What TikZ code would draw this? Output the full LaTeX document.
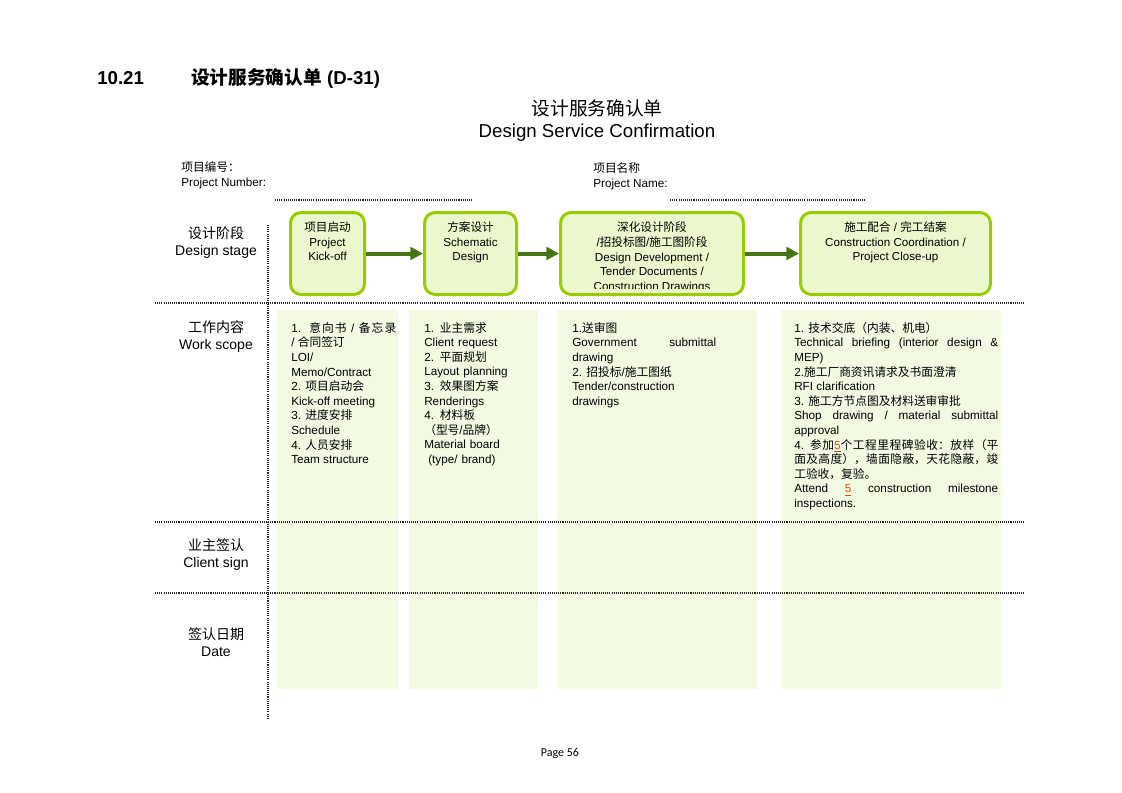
\documentclass[tikz,border=0pt]{standalone}
\usepackage{fontspec}
\usepackage{xcolor}
\usepackage{tikz}
\usetikzlibrary{arrows.meta, positioning}
\setmainfont{Liberation Sans}
\newfontfamily\cjk{Noto Sans CJK SC}
\newfontfamily\pagefont{Carlito}
\definecolor{stageline}{RGB}{153,204,0}
\definecolor{stagefill}{RGB}{235,247,204}
\definecolor{colfill}{RGB}{242,250,226}
\definecolor{flowgreen}{RGB}{70,118,18}
\definecolor{markred}{RGB}{230,70,30}
\newcommand{\zh}[1]{{\cjk\XeTeXlinebreaklocale "zh"\XeTeXlinebreakskip=0pt plus 1pt\relax #1}}
\newcommand{\markfive}{\textcolor{markred}{\underline{5}}}

\begin{document}
\begin{tikzpicture}[
    x=0.75pt, y=-0.75pt,
    stagebox/.style={draw=stageline, line width=2.25pt, fill=stagefill, rounded corners=8pt, minimum height=61.5pt},
    stagetext/.style={anchor=north, align=center, inner sep=0pt, font=\fontsize{8.7}{10.9}\selectfont},
    scopetext/.style={anchor=north west, align=justify, inner sep=0pt, font=\fontsize{8.8}{10.95}\selectfont},
    rowlabel/.style={align=center, inner sep=0pt, font=\fontsize{10.5}{12.75}\selectfont},
    flow/.style={-{Triangle[length=9.5pt, width=9.5pt]}, line width=3pt, draw=flowgreen},
    sep/.style={line width=0.9pt, dash pattern=on 0.8pt off 0.8pt, draw=black!85}
]
    \useasboundingbox (0,0) rectangle (1122,793);

    % Titles
    \node[anchor=west, inner sep=0pt, font=\fontsize{14}{16}\selectfont\bfseries] (secnum) at (97,78) {10.21};
    \node[anchor=west, inner sep=0pt, font=\fontsize{14}{16}\selectfont\bfseries] (sectitle) at (191,78) {\zh{设计服务确认单} (D-31)};
    \node[align=center, inner sep=0pt, font=\fontsize{14}{17}\selectfont] (formtitle) at (597,120.5) {\zh{设计服务确认单}\\Design Service Confirmation};

    % Project fields
    \node[anchor=north west, align=left, inner sep=0pt, font=\fontsize{8.8}{11.25}\selectfont] (projnum) at (181,161) {\zh{项目编号：}\\Project Number:};
    \node[anchor=north west, align=left, inner sep=0pt, font=\fontsize{8.8}{11.25}\selectfont] (projname) at (593,162) {\zh{项目名称}\\Project Name:};
    \draw[sep] (275,200) -- (472,200);
    \draw[sep] (670,200) -- (866,200);

    % Column backgrounds
    \fill[colfill] (277,310) rectangle (398,689);
    \fill[colfill] (409,310) rectangle (538,689);
    \fill[colfill] (557,310) rectangle (757,689);
    \fill[colfill] (781,310) rectangle (1001,689);

    % Grid lines
    \draw[sep] (268,225) -- (268,718);
    \draw[sep] (155,303) -- (1025,303);
    \draw[sep] (155,522) -- (1025,522);
    \draw[sep] (155,593) -- (1025,593);

    % Row labels
    \node[rowlabel] (stagelbl) at (216,242.5) {\zh{设计阶段}\\Design stage};
    \node[rowlabel] (scopelbl) at (216,336.5) {\zh{工作内容}\\Work scope};
    \node[rowlabel] (signlbl) at (216,555) {\zh{业主签认}\\Client sign};
    \node[rowlabel] (datelbl) at (216,642.5) {\zh{签认日期}\\Date};

    % Stage boxes
    \node[stagebox, minimum width=55.5pt] (kick) at (327.5,253.5) {};
    \node[stagebox, minimum width=69pt] (schem) at (470.5,253.5) {};
    \node[stagebox, minimum width=137.25pt] (devel) at (652,253.5) {};
    \node[stagebox, minimum width=142.5pt] (close) at (895.5,253.5) {};

    \node[stagetext] (kicktxt) at (327.5,221.5) {\zh{项目启动}\\Project\\Kick-off};
    \node[stagetext] (schemtxt) at (470.5,221.5) {\zh{方案设计}\\Schematic\\Design};
    \begin{scope}
        \clip (559,205) rectangle (745,288);
        \node[stagetext, font=\fontsize{8.7}{11.1}\selectfont] (develtxt) at (652,221.5) {\zh{深化设计阶段}\\/\zh{招投标图}/\zh{施工图阶段}\\Design Development /\\Tender Documents /\\Construction Drawings};
    \end{scope}
    \node[stagetext] (closetxt) at (895.5,221.5) {\zh{施工配合}~/~\zh{完工结案}\\Construction Coordination /\\Project Close-up};

    \draw[flow] (kick) -- (schem);
    \draw[flow] (schem) -- (devel);
    \draw[flow] (devel) -- (close);

    % Work scope
    \node[scopetext, text width=78.75pt] (scope1) at (291,322) {1. \zh{意向书} / \zh{备忘录}\linebreak
        / \zh{合同签订}\\
        LOI/\\
        Memo/Contract\\
        2. \zh{项目启动会}\\
        Kick-off meeting\\
        3. \zh{进度安排}\\
        Schedule\\
        4. \zh{人员安排}\\
        Team structure};
    \node[scopetext, text width=90pt, align=left] (scope2) at (424,322) {1. \zh{业主需求}\\
        Client request\\
        2. \zh{平面规划}\\
        Layout planning\\
        3. \zh{效果图方案}\\
        Renderings\\
        4. \zh{材料板}\\
        \zh{（型号}/\zh{品牌）}\\
        Material board\\
        \hspace*{3pt}(type/ brand)};
    \node[scopetext, text width=108pt] (scope3) at (572,322) {1.\zh{送审图}\\
        Government submittal\linebreak
        drawing\\
        2. \zh{招投标}/\zh{施工图纸}\\
        Tender/construction\\
        drawings};
    \node[scopetext, text width=153pt] (scope4) at (794,322) {1. \zh{技术交底（内装、机电）}\\
        Technical briefing (interior design \&\linebreak
        MEP)\\
        2.\zh{施工厂商资讯请求及书面澄清}\\
        RFI clarification\\
        3. \zh{施工方节点图及材料送审审批}\\
        Shop drawing / material submittal\linebreak
        approval\\
        4. \zh{参加}\markfive\zh{个工程里程碑验收：放样（平}\linebreak
        \zh{面及高度），墙面隐蔽，天花隐蔽，竣}\linebreak
        \zh{工验收，复验。}\\
        Attend \markfive{} construction milestone\linebreak
        inspections.};

    % Footer
    \node[inner sep=0pt, font=\pagefont\fontsize{9}{10}\selectfont] (pageno) at (560,753) {Page 56};
\end{tikzpicture}
\end{document}
